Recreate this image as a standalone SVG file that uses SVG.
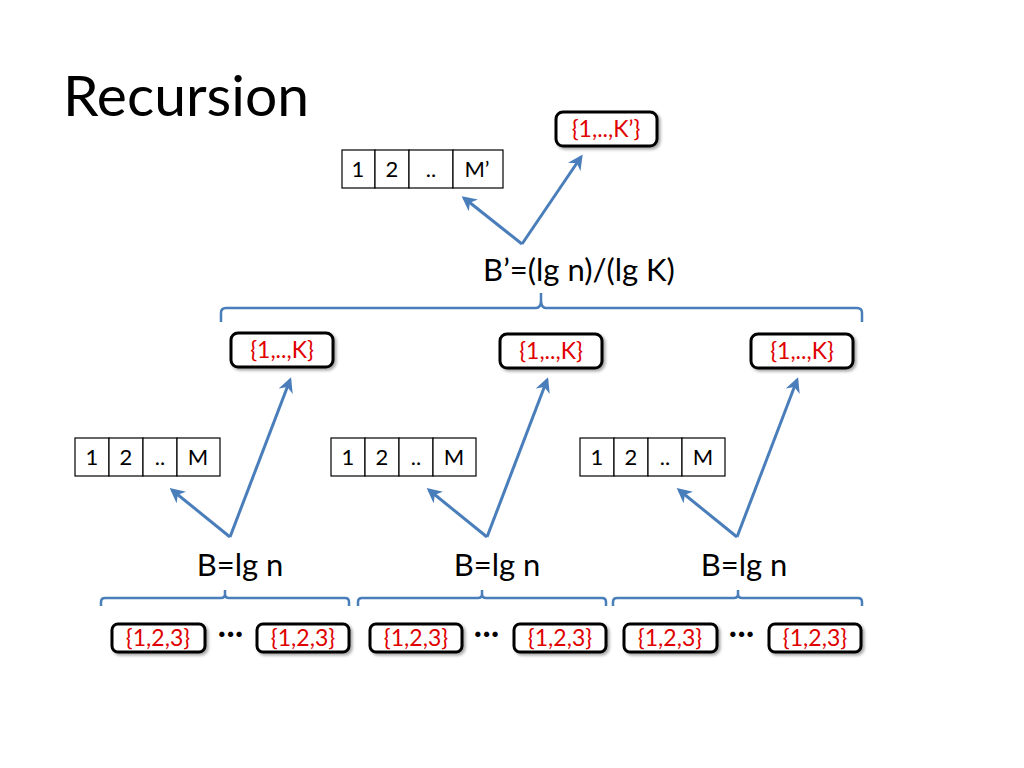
<svg xmlns="http://www.w3.org/2000/svg" width="1024" height="768" viewBox="0 0 1024 768">
<defs>
<style>
text{font-family:Lato,"Open Sans","Liberation Sans",sans-serif;}
.title{font-size:57px;fill:#000;}
.lbl{font-size:31px;fill:#000;text-anchor:middle;}
.cell{fill:#fff;stroke:#000;stroke-width:1.2;}
.ct{font-size:22px;fill:#000;text-anchor:middle;}
.set{fill:#fff;stroke:#000;stroke-width:3;}
.st{font-size:23px;fill:#e00000;text-anchor:middle;}
.conn{fill:none;stroke:#4a7ebb;stroke-width:3;}
.brace{fill:none;stroke:#4a7ebb;stroke-width:2.5;}
.dots{font-size:28px;fill:#000;text-anchor:middle;font-weight:bold;letter-spacing:1px;}
</style>
<filter id="sh" x="-20%" y="-20%" width="150%" height="150%">
<feDropShadow dx="2" dy="2" stdDeviation="1.5" flood-color="#000" flood-opacity="0.35"/>
</filter>
<marker id="ah" viewBox="0 0 10 10" refX="8" refY="5" markerWidth="5" markerHeight="5" orient="auto" markerUnits="strokeWidth">
<path d="M0,0 L10,5 L0,10 L3,5 Z" fill="#4a7ebb"/>
</marker>
</defs>
<text class="title" x="63" y="116">Recursion</text>

<g id="connectors">
<path class="conn" d="M522,244 L464,198" marker-end="url(#ah)"/>
<path class="conn" d="M522,244 L581,157" marker-end="url(#ah)"/>
<path class="conn" d="M230,537 L172,490" marker-end="url(#ah)"/>
<path class="conn" d="M230,537 L290,380" marker-end="url(#ah)"/>
<path class="conn" d="M487,537 L429,490" marker-end="url(#ah)"/>
<path class="conn" d="M487,537 L547,380" marker-end="url(#ah)"/>
<path class="conn" d="M737,537 L679,490" marker-end="url(#ah)"/>
<path class="conn" d="M737,537 L797,380" marker-end="url(#ah)"/>
</g>

<g id="braces">
<path class="brace" d="M221,322 L221,313 Q221,308 226,308 L536,308 Q541,308 541,300 L541,293 M541,300 Q541,308 546,308 L857,308 Q862,308 862,313 L862,322"/>
<path class="brace" d="M101,606 L101,602 Q101,598 105,598 L221,598 Q225,598 225,594 L225,590 M225,594 Q225,598 229,598 L345,598 Q349,598 349,602 L349,606"/>
<path class="brace" d="M358,606 L358,602 Q358,598 362,598 L478,598 Q482,598 482,594 L482,590 M482,594 Q482,598 486,598 L602,598 Q606,598 606,602 L606,606"/>
<path class="brace" d="M613,606 L613,602 Q613,598 617,598 L734,598 Q738,598 738,594 L738,590 M738,594 Q738,598 742,598 L858,598 Q862,598 862,602 L862,606"/>
</g>

<g id="array-top">
<rect class="cell" x="342" y="150" width="33" height="38"/>
<rect class="cell" x="375" y="150" width="34" height="38"/>
<rect class="cell" x="409" y="150" width="44" height="38"/>
<rect class="cell" x="453" y="150" width="50" height="38"/>
<text class="ct" x="358" y="177">1</text>
<text class="ct" x="392" y="177">2</text>
<text class="ct" x="431" y="177">..</text>
<text class="ct" x="477" y="177">M’</text>
</g>

<g id="set-top">
<rect class="set" x="556" y="112" width="101" height="34" rx="7" filter="url(#sh)"/>
<text class="st" x="606" y="137">{1,..,K’}</text>
</g>

<g id="label-top"><text class="lbl" x="579" y="281">B’=(lg n)/(lg K)</text></g>

<g id="set-k1"><rect class="set" x="231" y="333" width="102" height="34" rx="7" filter="url(#sh)"/><text class="st" x="282" y="358">{1,..,K}</text></g>
<g id="set-k2"><rect class="set" x="500" y="334" width="102" height="34" rx="7" filter="url(#sh)"/><text class="st" x="551" y="359">{1,..,K}</text></g>
<g id="set-k3"><rect class="set" x="751" y="334" width="102" height="34" rx="7" filter="url(#sh)"/><text class="st" x="802" y="359">{1,..,K}</text></g>

<g id="array-1">
<rect class="cell" x="75" y="438" width="34" height="38"/><rect class="cell" x="109" y="438" width="34" height="38"/><rect class="cell" x="143" y="438" width="34" height="38"/><rect class="cell" x="177" y="438" width="43" height="38"/>
<text class="ct" x="92" y="465">1</text><text class="ct" x="126" y="465">2</text><text class="ct" x="160" y="465">..</text><text class="ct" x="198" y="465">M</text>
</g>
<g id="array-2">
<rect class="cell" x="331" y="438" width="34" height="38"/><rect class="cell" x="365" y="438" width="34" height="38"/><rect class="cell" x="399" y="438" width="34" height="38"/><rect class="cell" x="433" y="438" width="43" height="38"/>
<text class="ct" x="348" y="465">1</text><text class="ct" x="382" y="465">2</text><text class="ct" x="416" y="465">..</text><text class="ct" x="454" y="465">M</text>
</g>
<g id="array-3">
<rect class="cell" x="580" y="438" width="34" height="38"/><rect class="cell" x="614" y="438" width="34" height="38"/><rect class="cell" x="648" y="438" width="34" height="38"/><rect class="cell" x="682" y="438" width="43" height="38"/>
<text class="ct" x="597" y="465">1</text><text class="ct" x="631" y="465">2</text><text class="ct" x="665" y="465">..</text><text class="ct" x="703" y="465">M</text>
</g>

<g id="label-1"><text class="lbl" x="240" y="576">B=lg n</text></g>
<g id="label-2"><text class="lbl" x="497" y="576">B=lg n</text></g>
<g id="label-3"><text class="lbl" x="744" y="576">B=lg n</text></g>

<g id="leaf-1a"><rect class="set" x="112" y="624" width="93" height="28" rx="6" filter="url(#sh)"/><text class="st" x="158" y="646">{1,2,3}</text></g>
<g id="leaf-1b"><rect class="set" x="257" y="624" width="92" height="28" rx="6" filter="url(#sh)"/><text class="st" x="303" y="646">{1,2,3}</text></g>
<g id="leaf-2a"><rect class="set" x="370" y="624" width="92" height="28" rx="6" filter="url(#sh)"/><text class="st" x="416" y="646">{1,2,3}</text></g>
<g id="leaf-2b"><rect class="set" x="514" y="624" width="92" height="28" rx="6" filter="url(#sh)"/><text class="st" x="560" y="646">{1,2,3}</text></g>
<g id="leaf-3a"><rect class="set" x="624" y="624" width="93" height="28" rx="6" filter="url(#sh)"/><text class="st" x="670" y="646">{1,2,3}</text></g>
<g id="leaf-3b"><rect class="set" x="769" y="624" width="92" height="28" rx="6" filter="url(#sh)"/><text class="st" x="815" y="646">{1,2,3}</text></g>

<text class="dots" x="231" y="643">···</text>
<text class="dots" x="487" y="643">···</text>
<text class="dots" x="742" y="643">···</text>
</svg>
